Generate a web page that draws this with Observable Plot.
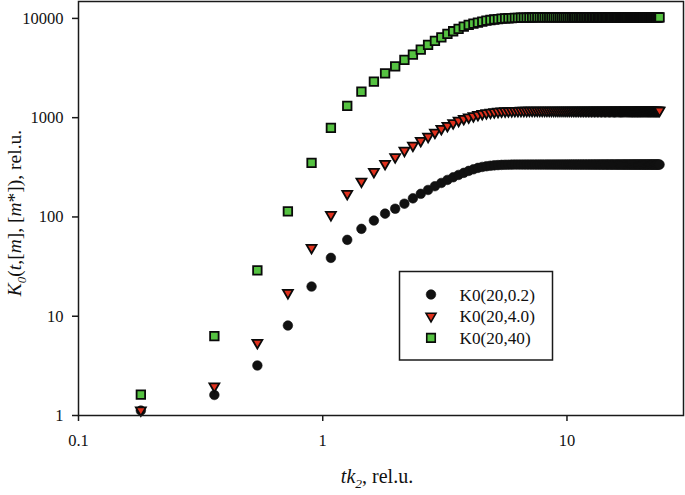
<!DOCTYPE html>
<html><head><meta charset="utf-8">
<script src="https://cdn.jsdelivr.net/npm/d3@7"></script>
<script src="https://cdn.jsdelivr.net/npm/@observablehq/plot@0.6"></script>
<style>
html,body{margin:0;padding:0;background:#fff;}
#chart{width:685px;height:495px;}
</style></head><body><div id="chart"></div>
<script>
// tk2, rel.u. (x values)
const tk2 = [
 0.18,0.36,0.54,0.72,0.90,1.08,1.26,1.44,1.62,1.80,
 1.98,2.16,2.34,2.52,2.70,2.88,3.06,3.24,3.42,3.60,
 3.78,3.96,4.14,4.32,4.50,4.68,4.86,5.04,5.22,5.40,
 5.58,5.76,5.94,6.12,6.30,6.48,6.66,6.84,7.02,7.20,
 7.38,7.56,7.74,7.92,8.10,8.28,8.46,8.64,8.82,9.00,
 9.18,9.36,9.54,9.72,9.90,10.08,10.26,10.44,10.62,10.80,
 10.98,11.16,11.34,11.52,11.70,11.88,12.06,12.24,12.42,12.60,
 12.78,12.96,13.14,13.32,13.50,13.68,13.86,14.04,14.22,14.40,
 14.58,14.76,14.94,15.12,15.30,15.48,15.66,15.84,16.02,16.20,
 16.38,16.56,16.74,16.92,17.10,17.28,17.46,17.64,17.82,18.00,
 18.18,18.36,18.54,18.72,18.90,19.08,19.26,19.44,19.62,19.80,
 19.98,20.16,20.34,20.52,20.70,20.88,21.06,21.24,21.42,21.60,
 21.78,21.96,22.14,22.32,22.50,22.68,22.86,23.04,23.22,23.40,
 23.58,23.76,23.94
];
// K0(20,0.2)
const k0_20_02 = [
 1.12,1.61,3.19,8.06,19.9,38.7,58.8,75.9,92,108,
 121,136,154,171,187,204,220,236,251,265,
 278,291,302,312,319,324,328,331,333,334.5,
 335.5,336,336.5,337,337,337,337,337,337,337,
 337,337,337,337,337,337,337,337,337,337,
 337,337,337,337,337,337,337,337,337,337,
 337,337,337,337,337,337,337,337,337,337,
 337,337,337,337,337,337,337,337,337,337,
 337,337,337,337,337,337,337,337,337,337,
 337,337,337,337,337,337,337,337,337,337,
 337,337,337,337,337,337,337,337,337,337,
 337,337,337,337,337,337,337,337,337,337,
 337,337,337,337,337,337,337,337,337,337,
 337,337,337
];
// K0(20,4.0)
const k0_20_40 = [
 1.13,1.97,5.40,17.2,48.9,105,171,228,285,343,
 402,466,525,586,645,708,773,830,883,935,
 975,1010,1040,1070,1095,1115,1130,1142,1152,1159,
 1165,1169,1172,1174,1176,1177,1178,1179,1180,1180,
 1180,1180,1180,1180,1180,1180,1180,1180,1180,1180,
 1180,1180,1180,1180,1180,1180,1180,1180,1180,1180,
 1180,1180,1180,1180,1180,1180,1180,1180,1180,1180,
 1180,1180,1180,1180,1180,1180,1180,1180,1180,1180,
 1180,1180,1180,1180,1180,1180,1180,1180,1180,1180,
 1180,1180,1180,1180,1180,1180,1180,1180,1180,1180,
 1180,1180,1180,1180,1180,1180,1180,1180,1180,1180,
 1180,1180,1180,1180,1180,1180,1180,1180,1180,1180,
 1180,1180,1180,1180,1180,1180,1180,1180,1180,1180,
 1180,1180,1180
];
// K0(20,40)
const k0_20_400 = [
 1.62,6.29,28.9,114,351,789,1315,1832,2310,2800,
 3294,3822,4320,4850,5405,5934,6454,6980,7420,7840,
 8270,8600,8870,9080,9300,9480,9630,9750,9850,9930,
 9990,10040,10080,10110,10140,10160,10180,10195,10205,10215,
 10225,10230,10235,10240,10245,10250,10250,10250,10250,10250,
 10250,10250,10250,10250,10250,10250,10250,10250,10250,10250,
 10250,10250,10250,10250,10250,10250,10250,10250,10250,10250,
 10250,10250,10250,10250,10250,10250,10250,10250,10250,10250,
 10250,10250,10250,10250,10250,10250,10250,10250,10250,10250,
 10250,10250,10250,10250,10250,10250,10250,10250,10250,10250,
 10250,10250,10250,10250,10250,10250,10250,10250,10250,10250,
 10250,10250,10250,10250,10250,10250,10250,10250,10250,10250,
 10250,10250,10250,10250,10250,10250,10250,10250,10250,10250,
 10250,10250,10250
];
const seriesNames = ["K0(20,0.2)", "K0(20,4.0)", "K0(20,40)"];
const xTicks = [0.1, 1, 10];
const yTicks = [1, 10, 100, 1000, 10000];

const colBlack = "#111111", colRed = "#e0311d", colGreen = "#55c241", colEdge = "#0a0a0a";

const triangleDown = {
  draw(context, size) {
    const y = -Math.sqrt(size / (3 * Math.sqrt(3)));
    context.moveTo(0, -2 * y);
    context.lineTo(Math.sqrt(3) * y, y);
    context.lineTo(-Math.sqrt(3) * y, y);
    context.closePath();
  }
};

const toRows = (vals) => tk2.map((t, i) => ({t, k: vals[i]}));
const dBlack = toRows(k0_20_02), dRed = toRows(k0_20_40), dGreen = toRows(k0_20_400);

const plot = Plot.plot({
  width: 685, height: 495,
  marginLeft: 78, marginRight: 2, marginTop: 1, marginBottom: 80,
  style: {fontFamily: "'Liberation Serif','Times New Roman',serif", fontSize: "16.5px", color: "#000", background: "#fff", overflow: "visible"},
  x: {type: "log", domain: [0.1, 30]},
  y: {type: "log", domain: [1, 14800]},
  marks: [
    Plot.axisX({ticks: xTicks, tickFormat: d => String(d), tickSize: 6, tickPadding: 13, label: null, strokeWidth: 1.5, stroke: "#1a1a1a", fill: "#111"}),
    Plot.axisY({ticks: yTicks, tickFormat: d => String(d), tickSize: 6, tickPadding: 9, label: null, strokeWidth: 1.5, stroke: "#1a1a1a", fill: "#111"}),
    Plot.dot(dBlack, {x: "t", y: "k", r: 4.8, fill: colBlack, stroke: colBlack, strokeWidth: 0.6}),
    Plot.dot(dRed, {x: "t", y: "k", r: 3.7, symbol: triangleDown, fill: colRed, stroke: colEdge, strokeWidth: 1.8}),
    Plot.dot(dGreen, {x: "t", y: "k", r: 4.8, symbol: "square", fill: colGreen, stroke: colEdge, strokeWidth: 1.8}),
    Plot.frame({stroke: "#1a1a1a", strokeWidth: 1.5})
  ]
});
document.getElementById("chart").appendChild(plot);

const svg = d3.select(plot);
// y-axis title
const yt = svg.append("text")
  .attr("transform", "translate(21,213) rotate(-90)")
  .attr("text-anchor", "middle").attr("fill", "#111")
  .style("font-size", "19.5px");
yt.append("tspan").attr("font-style", "italic").text("K");
yt.append("tspan").attr("font-style", "italic").attr("dy", 5).style("font-size", "13px").text("0");
yt.append("tspan").attr("dy", -5).text("(");
yt.append("tspan").attr("font-style", "italic").text("t");
yt.append("tspan").text(",[");
yt.append("tspan").attr("font-style", "italic").text("m");
yt.append("tspan").text("], [");
yt.append("tspan").attr("font-style", "italic").text("m");
yt.append("tspan").text("*]), rel.u.");

// x-axis title
const xt = svg.append("text")
  .attr("x", 377).attr("y", 483)
  .attr("text-anchor", "middle").attr("fill", "#111")
  .style("font-size", "20px");
xt.append("tspan").attr("font-style", "italic").text("tk");
xt.append("tspan").attr("font-style", "italic").attr("dy", 5).style("font-size", "13.5px").text("2");
xt.append("tspan").attr("dy", -5).text(", rel.u.");

// legend
const lg = svg.append("g");
lg.append("rect").attr("x", 399.5).attr("y", 271.5).attr("width", 153).attr("height", 88.5)
  .attr("fill", "#fff").attr("stroke", "#1a1a1a").attr("stroke-width", 1.5);
const legendItems = [
  {name: seriesNames[0], sym: d3.symbolCircle, size: Math.PI * 4.8 * 4.8, fill: colBlack, stroke: colBlack, sw: 0.6},
  {name: seriesNames[1], sym: triangleDown, size: Math.PI * 3.7 * 3.7, fill: colRed, stroke: colEdge, sw: 1.6},
  {name: seriesNames[2], sym: d3.symbolSquare, size: Math.PI * 4.8 * 4.8, fill: colGreen, stroke: colEdge, sw: 1.6}
];
legendItems.forEach((it, i) => {
  const cy = 294.5 + i * 21.7;
  lg.append("path").attr("d", d3.symbol(it.sym, it.size)())
    .attr("transform", `translate(431,${cy})`)
    .attr("fill", it.fill).attr("stroke", it.stroke).attr("stroke-width", it.sw);
  lg.append("text").attr("x", 459.5).attr("y", cy).attr("dy", "0.35em")
    .attr("text-anchor", "start")
    .attr("fill", "#111").style("font-size", "17.2px").text(it.name);
});
</script>
</body></html>
